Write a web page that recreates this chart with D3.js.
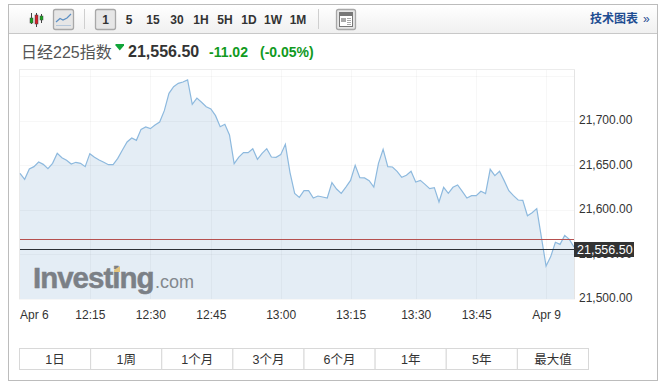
<!DOCTYPE html>
<html>
<head>
<meta charset="utf-8">
<script src="https://cdn.jsdelivr.net/npm/d3@7"></script>
<style>
    html, body { margin: 0; padding: 0; background: #fff; }
    svg { display: block; }
    text { font-family: "Liberation Sans", Arial, sans-serif; }
    .cjk { font-family: "Liberation Sans", "Noto Sans CJK SC", sans-serif; }
</style>
</head>
<body>
<svg id="chart" width="663" height="385"></svg>
<script>
// index prices, one reading per period
const prices = [
    21641.2, 21634.5, 21646.1, 21648.7, 21653.9, 21651.3, 21646.4, 21652.4, 21663.7, 21658.8,
    21655.8, 21651.7, 21653.6, 21652.4, 21648.7, 21663.3, 21659.2, 21656.2, 21653.6, 21650.9,
    21650.9, 21658.0, 21667.4, 21676.4, 21680.9, 21678.3, 21690.6, 21693.3, 21691.4, 21695.5,
    21698.9, 21711.6, 21731.1, 21738.6, 21742.3, 21743.8, 21746.1, 21718.7, 21725.8, 21721.0,
    21716.1, 21713.5, 21706.0, 21693.6, 21696.3, 21684.3, 21652.1, 21659.5, 21664.4, 21664.4,
    21668.9, 21656.9, 21663.7, 21668.9, 21659.5, 21659.2, 21662.2, 21673.8, 21642.0, 21618.7,
    21614.2, 21621.7, 21621.7, 21613.5, 21615.7, 21614.6, 21613.5, 21630.7, 21623.6, 21618.7,
    21625.8, 21633.3, 21650.2, 21636.3, 21636.0, 21633.0, 21625.8, 21652.4, 21668.2, 21648.7,
    21648.3, 21643.5, 21636.7, 21639.0, 21643.5, 21631.5, 21633.3, 21628.8, 21624.0, 21625.1,
    21609.0, 21625.5, 21618.7, 21625.5, 21628.1, 21621.0, 21613.5, 21616.1, 21616.1, 21621.0,
    21618.4, 21645.7, 21638.6, 21643.5, 21633.0, 21621.7, 21616.1, 21611.2, 21610.9, 21593.6,
    21597.0, 21601.5, 21569.3, 21537.1, 21547.6, 21563.7, 21561.4, 21571.5, 21567.0, 21558.4
];
const lastPrice = 21556.50;
const prevClose = 21567.52;
const priceChange = "-11.02";
const percentChange = "(-0.05%)";

// the x axis is per reading, so the time ticks are not evenly spaced
const timeTickIndex = [15, 28, 41, 56, 71, 85, 98, 113];
const timeTickLabels = ["12:15", "12:30", "12:45", "13:00", "13:15", "13:30", "13:45", "Apr 9"];
const firstLabel = "Apr 6";
const gridPrices = [21500, 21550, 21600, 21650, 21700, 21750];
const labelPrices = [21500, 21550, 21600, 21650, 21700];

const intervals = ["5", "15", "30", "1H", "5H", "1D", "1W", "1M"];
const intervalX = [129, 153, 177, 201, 225, 249, 273, 298];
const ranges = ["1日", "1周", "1个月", "3个月", "6个月", "1年", "5年", "最大值"];

const plot = {left: 19, right: 575, top: 70, bottom: 299};
const svg = d3.select("#chart");

const x = d3.scaleLinear().domain([0, prices.length - 1]).range([20, 574]);
const y = d3.scaleLinear().domain([21500, 21757.3]).range([plot.bottom, plot.top]);
const fmt = d3.format(",.2f");

const defs = svg.append("defs");
const toolbarFill = defs.append("linearGradient").attr("id", "toolbarFill")
    .attr("x1", 0).attr("x2", 0).attr("y1", 0).attr("y2", 1);
toolbarFill.append("stop").attr("offset", 0).attr("stop-color", "#ffffff");
toolbarFill.append("stop").attr("offset", 1).attr("stop-color", "#f0f0f0");

// frame and toolbar
svg.append("rect").attr("x", 8.5).attr("y", 4.5).attr("width", 649).attr("height", 376)
    .attr("fill", "#fff").attr("stroke", "#bcbcbc");
svg.append("rect").attr("x", 9).attr("y", 5).attr("width", 648).attr("height", 28)
    .attr("fill", "url(#toolbarFill)");
svg.append("line").attr("x1", 9).attr("x2", 657).attr("y1", 33.5).attr("y2", 33.5)
    .attr("stroke", "#c8c8c8");

function toolbarButton(bx, w) {
    svg.append("rect").attr("x", bx + 0.5).attr("y", 9.5).attr("width", w).attr("height", 20)
        .attr("rx", 2).attr("fill", "#e6e6e6").attr("stroke", "#a8a8a8").attr("stroke-width", 1.3);
}

function toolbarSeparator(sx) {
    svg.append("line").attr("x1", sx).attr("x2", sx).attr("y1", 9).attr("y2", 29)
        .attr("stroke", "#cfcfcf");
}

// candlestick icon
const candles = svg.append("g").attr("class", "candleIcon");
[[31.5, 18, 23, 13, 24, "#18a41f"], [36.5, 15, 24, 13, 27, "#d4202a"], [41.5, 16, 20, 14, 23, "#18a41f"]]
    .forEach(([cx, top, bot, wickTop, wickBot, color]) => {
        candles.append("line").attr("x1", cx).attr("x2", cx).attr("y1", wickTop).attr("y2", wickBot)
            .attr("stroke", "#444");
        candles.append("rect").attr("x", cx - 1.5).attr("y", top).attr("width", 3).attr("height", bot - top)
            .attr("fill", color).attr("stroke", "#444").attr("stroke-width", 0.5);
    });

// line icon button
toolbarButton(53, 20);
svg.append("path").attr("d", "M56,22 L60,18.5 L63,20 L67,18 L71,14").attr("fill", "none")
    .attr("stroke", "#5b8fc4").attr("stroke-width", 1.2);
svg.append("line").attr("x1", 56).attr("x2", 71).attr("y1", 25.5).attr("y2", 25.5)
    .attr("stroke", "#b5c7da");

toolbarSeparator(84.5);
toolbarButton(95, 20);

svg.append("text").attr("x", 105.5).attr("y", 23.5).attr("text-anchor", "middle")
    .attr("font-size", 12).attr("font-weight", "bold").attr("fill", "#333").text("1");
svg.append("g").selectAll("text").data(intervals).enter().append("text")
    .attr("x", (d, i) => intervalX[i])
    .attr("y", 23.5)
    .attr("text-anchor", "middle")
    .attr("font-size", 12)
    .attr("font-weight", "bold")
    .attr("fill", "#333")
    .text(d => d);

toolbarSeparator(318.5);

// table icon
toolbarButton(336, 19);
svg.append("rect").attr("x", 339.5).attr("y", 12.5).attr("width", 13).attr("height", 14)
    .attr("fill", "#fff").attr("stroke", "#777");
svg.append("rect").attr("x", 340).attr("y", 13).attr("width", 12).attr("height", 3).attr("fill", "#777");
svg.append("rect").attr("x", 341).attr("y", 18).attr("width", 5).attr("height", 4).attr("fill", "#aaa");
[18.5, 20.5, 22.5, 24.5].forEach(ly => {
    svg.append("line").attr("x1", 347).attr("x2", 351).attr("y1", ly).attr("y2", ly).attr("stroke", "#aaa");
});

svg.append("text").attr("class", "cjk").attr("x", 590).attr("y", 23)
    .attr("font-size", 12).attr("font-weight", "bold").attr("fill", "#1f4d92").text("技术图表");
svg.append("text").attr("x", 643).attr("y", 23)
    .attr("font-size", 12).attr("fill", "#1f4d92").text("»");

// title row
svg.append("text").attr("class", "cjk").attr("x", 21).attr("y", 58)
    .attr("font-size", 16).attr("fill", "#555").text("日经225指数");
svg.append("path").attr("d", "M115.5,44 L124,44 L124,45.5 L119.8,50.5 L115.5,45.5 Z").attr("fill", "#11a53a");
svg.append("text").attr("x", 128).attr("y", 57).attr("font-size", 16).attr("font-weight", "bold")
    .attr("fill", "#333").text(fmt(lastPrice));
svg.append("text").attr("x", 209).attr("y", 57).attr("font-size", 14).attr("font-weight", "bold")
    .attr("fill", "#119a1e").text(priceChange);
svg.append("text").attr("x", 260).attr("y", 57).attr("font-size", 14).attr("font-weight", "bold")
    .attr("fill", "#119a1e").text(percentChange);

// plot frame
svg.append("line").attr("x1", plot.left).attr("x2", plot.right).attr("y1", 69.5).attr("y2", 69.5)
    .attr("stroke", "#ececec");

// area under the price line
const area = d3.area().x((d, i) => x(i)).y0(plot.bottom).y1(d => y(d));
const line = d3.line().x((d, i) => x(i)).y(d => y(d));

svg.append("path").datum(prices).attr("d", area)
    .attr("fill", "#e4edf5");
svg.append("rect").attr("x", plot.left).attr("y", y(prices[0])).attr("width", 1)
    .attr("height", plot.bottom - y(prices[0])).attr("fill", "#e4edf5");

// grid
const grid = svg.append("g").attr("class", "grid");
grid.selectAll(".hGrid").data(gridPrices).enter().append("line")
    .attr("class", "hGrid")
    .attr("x1", plot.left).attr("x2", plot.right)
    .attr("y1", d => Math.round(y(d)) + 0.5).attr("y2", d => Math.round(y(d)) + 0.5)
    .attr("stroke", "#000").attr("stroke-opacity", 0.03);
grid.selectAll(".vGrid").data(timeTickIndex).enter().append("line")
    .attr("class", "vGrid")
    .attr("x1", d => Math.round(x(d)) + 0.5).attr("x2", d => Math.round(x(d)) + 0.5)
    .attr("y1", plot.top).attr("y2", plot.bottom)
    .attr("stroke", "#000").attr("stroke-opacity", 0.03);
svg.append("line").attr("x1", 19.5).attr("x2", 19.5).attr("y1", plot.top).attr("y2", plot.bottom)
    .attr("stroke", "#e9e9e9");
svg.append("line").attr("x1", 574.5).attr("x2", 574.5).attr("y1", plot.top).attr("y2", plot.bottom)
    .attr("stroke", "#e4e4e4");

svg.append("path").datum(prices).attr("d", line)
    .attr("fill", "none").attr("stroke", "#8db9de").attr("stroke-width", 1.2);

// watermark
const mark = svg.append("g").attr("class", "watermark");
mark.append("text").attr("x", 33).attr("y", 288)
    .attr("font-size", 29.5).attr("font-weight", "bold").attr("fill", "#7b8086")
    .attr("stroke", "#7b8086").attr("stroke-width", 0.5)
    .attr("letter-spacing", -1).text("Investing");
mark.append("path").attr("d", "M114,270 L120,266 L120,272 L114,272 Z").attr("fill", "#e3c57e");
mark.append("text").attr("x", 155).attr("y", 288)
    .attr("font-size", 18).attr("fill", "#83888e").text(".com");

// reference lines
svg.append("line").attr("x1", 20).attr("x2", 574)
    .attr("y1", Math.round(y(prevClose)) + 0.5).attr("y2", Math.round(y(prevClose)) + 0.5)
    .attr("stroke", "#b5504f");
svg.append("line").attr("x1", 20).attr("x2", 574)
    .attr("y1", Math.round(y(lastPrice)) + 0.5).attr("y2", Math.round(y(lastPrice)) + 0.5)
    .attr("stroke", "#2b2f36");

// price axis
const yAxis = svg.append("g").attr("transform", "translate(579,-1)")
    .call(d3.axisRight(y).tickValues(labelPrices).tickFormat(fmt).tickSize(0).tickPadding(0));
yAxis.select(".domain").remove();
yAxis.selectAll("text").attr("font-size", 12).attr("fill", "#333")
    .attr("font-family", "Liberation Sans").attr("dy", "0.32em");

// last price flag
svg.append("rect").attr("x", 574).attr("y", 242).attr("width", 60).attr("height", 15).attr("fill", "#333");
svg.append("text").attr("x", 577).attr("y", 253.5).attr("font-size", 12.5).attr("fill", "#fff").text(fmt(lastPrice));

// time axis
const xAxis = svg.append("g").attr("transform", "translate(0,310)")
    .call(d3.axisBottom(x).tickValues(timeTickIndex)
        .tickFormat((d, i) => timeTickLabels[i]).tickSize(0).tickPadding(0));
xAxis.select(".domain").remove();
xAxis.selectAll("text").attr("font-size", 12).attr("fill", "#333")
    .attr("font-family", "Liberation Sans");
svg.append("text").attr("x", 20).attr("y", 319).attr("font-size", 12).attr("fill", "#333").text(firstLabel);

// range buttons
const band = d3.scaleBand().domain(ranges).range([19.5, 588.5]);
const cells = svg.append("g").selectAll("g").data(ranges).enter().append("g")
    .attr("transform", d => "translate(" + band(d) + ",348.5)");
cells.append("rect").attr("width", band.bandwidth()).attr("height", 21)
    .attr("fill", "#fff").attr("stroke", "#d8d8d8");
cells.append("text").attr("class", "cjk")
    .attr("x", band.bandwidth() / 2).attr("y", 15.5)
    .attr("text-anchor", "middle").attr("font-size", 12.5).attr("fill", "#333")
    .text(d => d);
</script>
</body>
</html>
